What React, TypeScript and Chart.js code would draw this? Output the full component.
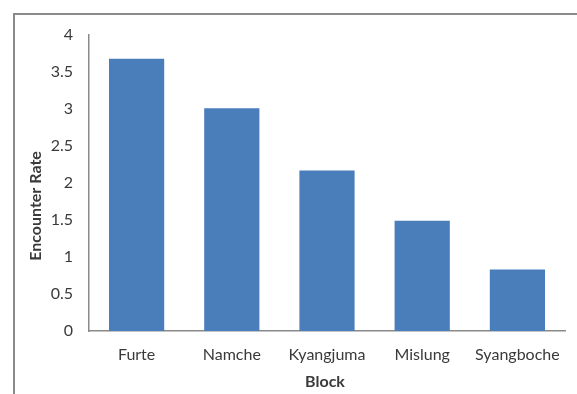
import React, { useEffect, useRef } from "react";
import { Chart, registerables } from "chart.js";

Chart.register(...registerables);

const categories = ["Furte", "Namche", "Kyangjuma", "Mislung", "Syangboche"];
const encounterRate = [3.68, 3.01, 2.17, 1.49, 0.83];
const yTicks = [0, 0.5, 1, 1.5, 2, 2.5, 3, 3.5, 4];
const xTitle = "Block";
const yTitle = "Encounter Rate";

const FONT = "Lato";
const TEXT = "#3a3a3a";

const framePlugin = {
  id: "frame",
  beforeDraw(chart: any) {
    const ctx = chart.ctx;
    ctx.save();
    ctx.fillStyle = "#ffffff";
    ctx.fillRect(0, 0, chart.width, chart.height);
    ctx.strokeStyle = "#8a8a8a";
    ctx.lineWidth = 2;
    ctx.beginPath();
    ctx.moveTo(14, chart.height);
    ctx.lineTo(14, 14);
    ctx.lineTo(chart.width, 14);
    ctx.stroke();
    ctx.restore();
  },
  afterDraw(chart: any) {
    const ctx = chart.ctx;
    const area = chart.chartArea;
    ctx.save();
    ctx.fillStyle = TEXT;
    ctx.font = `bold 16px ${FONT}`;
    ctx.textAlign = "center";
    ctx.textBaseline = "middle";
    ctx.fillText(xTitle, (area.left + area.right) / 2 - 2, 382);
    ctx.translate(36, area.bottom - 125);
    ctx.rotate(-Math.PI / 2);
    ctx.fillText(yTitle, 0, 0);
    ctx.restore();
  },
};

export default function App() {
  const ref = useRef<HTMLCanvasElement | null>(null);
  useEffect(() => {
    document.body.style.margin = "0";
    const chart = new Chart(ref.current as HTMLCanvasElement, {
      type: "bar",
      data: {
        labels: categories,
        datasets: [
          {
            data: encounterRate,
            backgroundColor: "#4a7ebb",
            borderWidth: 0,
            barPercentage: 0.58,
            categoryPercentage: 1,
          },
        ],
      },
      options: {
        animation: false,
        responsive: false,
        maintainAspectRatio: false,
        layout: { padding: { left: 14, right: 12, top: 35, bottom: 0 } },
        plugins: { legend: { display: false }, tooltip: { enabled: false } },
        scales: {
          x: {
            grid: { display: false, drawTicks: false },
            border: { display: true, color: "#8a8a8a", width: 1.5 },
            ticks: { color: TEXT, font: { family: FONT, size: 16 }, padding: 14, maxRotation: 0 },
            afterFit: (s: any) => {
              s.height = 63;
            },
          },
          y: {
            min: 0,
            max: 4,
            afterBuildTicks: (s: any) => {
              s.ticks = yTicks.map((v) => ({ value: v }));
            },
            grid: { display: false, drawTicks: false },
            border: { display: true, color: "#8a8a8a", width: 1.5 },
            ticks: {
              color: TEXT,
              font: { family: FONT, size: 16 },
              padding: 16,
              callback: (v: any) => String(v),
            },
            afterFit: (s: any) => {
              s.width = 75;
            },
          },
        },
      },
      plugins: [framePlugin],
    });
    return () => chart.destroy();
  }, []);
  return (
    <div style={{ position: "absolute", left: 0, top: 0, width: 577, height: 394 }}>
      <canvas ref={ref} width={577} height={394} style={{ display: "block" }} />
    </div>
  );
}
